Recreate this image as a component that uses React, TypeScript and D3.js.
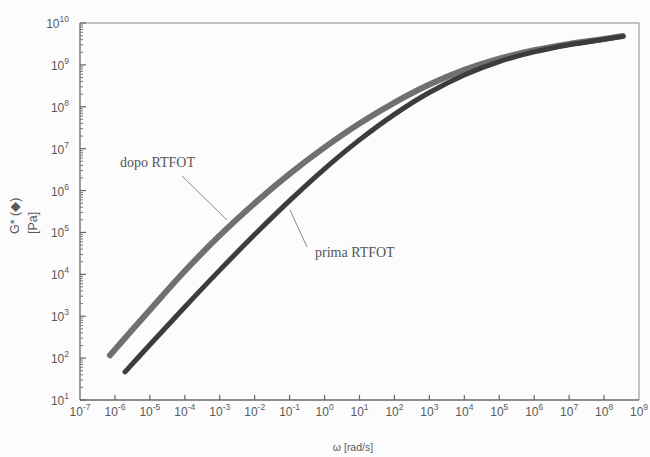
import React from "react";
import * as d3 from "d3";

// omega [rad/s] and G* [Pa]
const dopoOmega = [7.2e-7, 1e-5, 1e-4, 1e-3, 1e-2, 1e-1, 1, 1e1, 1e2, 1e3, 1e4, 1e5, 1e6, 1e7, 1e8, 3.47e8];
const dopoG = [117, 1413, 1.2e4, 8.5e4, 5.0e5, 2.51e6, 1.07e7, 3.98e7, 1.26e8, 3.39e8, 7.59e8, 1.41e9, 2.24e9, 3.16e9, 4.17e9, 4.9e9];

const primaOmega = [1.95e-6, 1e-5, 1e-4, 1e-3, 1e-2, 1e-1, 1, 1e1, 1e2, 1e3, 1e4, 1e5, 1e6, 1e7, 1e8, 3.47e8];
const primaG = [46.8, 209, 1660, 1.26e4, 8.9e4, 5.75e5, 3.31e6, 1.62e7, 6.61e7, 2.19e8, 5.75e8, 1.2e9, 2.04e9, 3.02e9, 4.07e9, 4.79e9];

const xTickExps = [-7, -6, -5, -4, -3, -2, -1, 0, 1, 2, 3, 4, 5, 6, 7, 8, 9];
const yTickExps = [1, 2, 3, 4, 5, 6, 7, 8, 9, 10];

const W = 650, H = 457;
const L = 80, R = 639, T = 23, B = 400;
const ink = "#5a5a5a";

export default function App() {
  const x = d3.scaleLog().domain([1e-7, 1e9]).range([L, R]);
  const y = d3.scaleLog().domain([1e1, 1e10]).range([B, T]);
  const line = d3.line<[number, number]>().x(d => x(d[0])).y(d => y(d[1])).curve(d3.curveCatmullRom.alpha(0.5));
  const dopo = dopoOmega.map((o, i) => [o, dopoG[i]] as [number, number]);
  const prima = primaOmega.map((o, i) => [o, primaG[i]] as [number, number]);

  const minor: number[] = [];
  for (let e = 1; e < 10; e++) for (let k = 2; k <= 9; k++) minor.push(k * Math.pow(10, e));

  const sans = "'Liberation Sans', Arial, sans-serif";
  const serif = "'Liberation Serif', 'Times New Roman', serif";

  return (
    <svg width={W} height={H} style={{ position: "absolute", left: 0, top: 0, background: "#fcfcfc" }}>
      <rect x={0} y={0} width={W} height={H} fill="#fcfcfc" />
      {/* frame */}
      <line x1={L} y1={T} x2={R} y2={T} stroke="#8a8a8a" strokeWidth={1} />
      <line x1={R} y1={T} x2={R} y2={B} stroke="#8a8a8a" strokeWidth={1} />
      <line x1={L} y1={T} x2={L} y2={B} stroke="#6a6a6a" strokeWidth={1.3} />
      <line x1={L} y1={B} x2={R} y2={B} stroke="#6a6a6a" strokeWidth={1.3} />
      {/* y ticks */}
      {minor.map((v, i) => (
        <line key={"m" + i} x1={L} x2={L + 3} y1={y(v)} y2={y(v)} stroke="#777" strokeWidth={1} />
      ))}
      {yTickExps.map(e => (
        <g key={"y" + e}>
          <line x1={L} x2={L + 6} y1={y(Math.pow(10, e))} y2={y(Math.pow(10, e))} stroke="#666" strokeWidth={1.2} />
          <text x={69} y={y(Math.pow(10, e)) + 5} textAnchor="end" fontFamily={sans} fontSize={12} fill={ink}>
            10<tspan dy={-6} fontSize={8.5}>{e}</tspan>
          </text>
        </g>
      ))}
      {/* x ticks */}
      {xTickExps.map(e => (
        <g key={"x" + e}>
          {e > -7 && e < 9 && (
            <line x1={x(Math.pow(10, e))} x2={x(Math.pow(10, e))} y1={B} y2={B - 5} stroke="#666" strokeWidth={1.2} />
          )}
          <text x={x(Math.pow(10, e))} y={416} textAnchor="middle" fontFamily={sans} fontSize={12} fill={ink}>
            10<tspan dy={-6} fontSize={8.5}>{e}</tspan>
          </text>
        </g>
      ))}
      {/* axis titles */}
      <text x={353} y={451} textAnchor="middle" fontFamily={sans} fontSize={10.5} fill={ink}>ω [rad/s]</text>
      <text transform="translate(19,234) rotate(-90)" textAnchor="start" fontFamily={sans} fontSize={12.5} fill={ink}>G* (◆)</text>
      <text transform="translate(37,234) rotate(-90)" textAnchor="start" fontFamily={sans} fontSize={12.5} fill={ink}>[Pa]</text>
      {/* curves */}
      <path d={line(dopo) || ""} fill="none" stroke="#707070" strokeWidth={6} strokeLinecap="round" />
      <path d={line(prima) || ""} fill="none" stroke="#3c3c3c" strokeWidth={5} strokeLinecap="round" />
      {/* annotations */}
      <line x1={182} y1={176} x2={227} y2={220} stroke="#8a8a8a" strokeWidth={1} />
      <text x={120} y={167} fontFamily={serif} fontSize={14} fill="#555">dopo RTFOT</text>
      <line x1={290} y1={210} x2={307} y2={247} stroke="#8a8a8a" strokeWidth={1} />
      <text x={315} y={257} fontFamily={serif} fontSize={14} fill="#555">prima RTFOT</text>
    </svg>
  );
}
